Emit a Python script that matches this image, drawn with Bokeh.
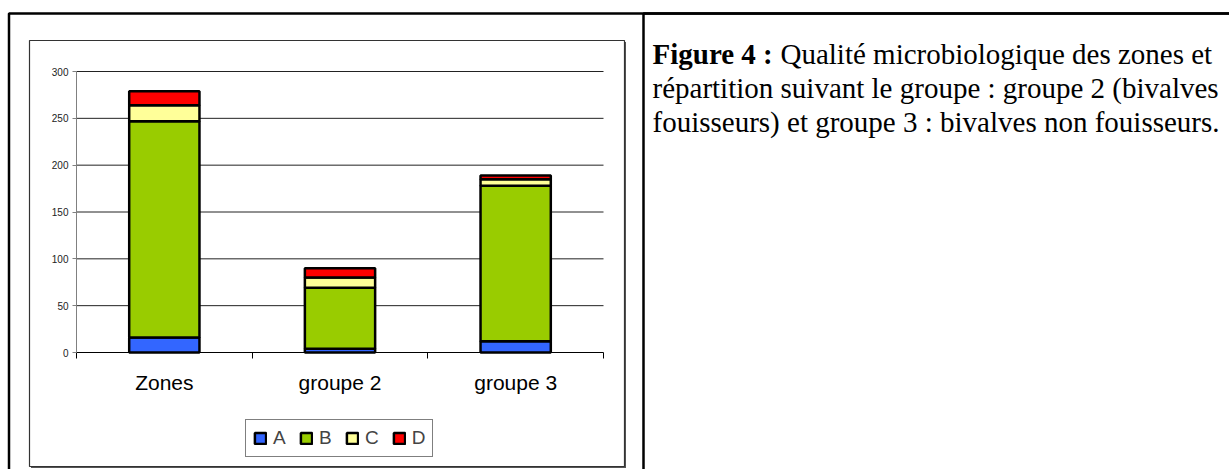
from bokeh.plotting import figure
from bokeh.models import (Range1d, LinearAxis, FixedTicker, BoxAnnotation, Label,
                          ColumnDataSource, LinearScale)
from bokeh.embed import file_html
from bokeh.resources import INLINE

# ---------------- data ----------------
categories = ["Zones", "groupe 2", "groupe 3"]
series = ["A", "B", "C", "D"]
A = [16, 4, 12]
B = [231, 65, 166]
C = [17, 11, 7]
D = [15, 10, 4]
colors = ["#3366FF", "#99CC00", "#FFFF99", "#FF0000"]
y_ticks = [0, 50, 100, 150, 200, 250, 300]
y_max = 300
caption_bold = "Figure 4 :"
caption_lines = [
    "Qualité microbiologique des zones et",
    "répartition suivant le groupe : groupe 2 (bivalves",
    "fouisseurs) et groupe 3 : bivalves non fouisseurs.",
]

# ---------------- layout (page pixels) ----------------
W, H = 1229, 469
FL, FR, FT, FB = 76, 603, 71, 352          # chart plotting area
NCAT = len(categories)
kx = (FR - FL) / NCAT                      # px per category
ky = (FB - FT) / y_max                     # px per value unit

p = figure(width=W, height=H, output_backend="svg", toolbar_location=None,
           x_axis_location=None, y_axis_location=None,
           x_range=Range1d(-FL / kx, NCAT + (W - FR) / kx),
           y_range=Range1d(-(H - FB) / ky, y_max + FT / ky),
           min_border=0, min_border_left=0, min_border_right=0,
           min_border_top=0, min_border_bottom=0)
p.background_fill_color = "white"
p.border_fill_color = "white"
p.outline_line_color = None
p.grid.visible = False

p.extra_x_ranges = {"px": Range1d(0, W)}
p.extra_y_ranges = {"py": Range1d(H, 0)}
p.extra_x_scales = {"px": LinearScale()}
p.extra_y_scales = {"py": LinearScale()}

# chart box with its shadow (page pixels, drawn under the glyphs)
def ubox(l, r, t, b, fill, line, lw):
    p.add_layout(BoxAnnotation(left=l, right=r, top=t, bottom=b, level="underlay",
                               x_range_name="px", y_range_name="py",
                               fill_color=fill, fill_alpha=1,
                               line_color=line, line_width=lw, line_alpha=1))

ubox(30.5, 625.5, 41.5, 467.5, "#555555", None, 0)
ubox(29, 624, 40, 466, "white", "#333333", 1.2)

# horizontal gridlines (from the tick list)
p.segment(x0=0, x1=NCAT, y0=y_ticks[1:], y1=y_ticks[1:], line_color="#222222", line_width=1)

# stacked bars
xpos = [i + 0.5 for i in range(NCAT)]
source = ColumnDataSource(dict(x=xpos, cat=categories, A=A, B=B, C=C, D=D))
p.vbar_stack(series, x="x", width=0.4, source=source, fill_color=colors,
             line_color="black", line_width=2.5, legend_label=series)

# y axis
yax = LinearAxis(fixed_location=0, bounds=(0, y_max), ticker=FixedTicker(ticks=y_ticks),
                 axis_line_color="#808080", major_tick_line_color="#808080",
                 major_tick_out=4, major_tick_in=0, minor_tick_out=0, minor_tick_in=0,
                 major_label_standoff=4, major_label_text_font="Liberation Sans",
                 major_label_text_font_size="10px", major_label_text_color="#222222")
p.add_layout(yax, "left")

# x axis: labels at category centres, ticks (minor) at category boundaries
xax = LinearAxis(fixed_location=0, bounds=(0, NCAT),
                 ticker=FixedTicker(ticks=xpos, minor_ticks=list(range(NCAT + 1))),
                 major_label_overrides={x: c for x, c in zip(xpos, categories)},
                 axis_line_color="black", axis_line_width=1,
                 major_tick_line_color=None, major_tick_out=0, major_tick_in=0,
                 minor_tick_line_color="black", minor_tick_out=6, minor_tick_in=0,
                 major_label_standoff=12,
                 major_label_text_font="Liberation Sans",
                 major_label_text_font_size="21px", major_label_text_color="black")
p.add_layout(xax, "below")

# legend
leg = p.legend[0]
leg.location = (245, H - 457)
leg.orientation = "horizontal"
leg.glyph_width = 14
leg.glyph_height = 14
leg.label_width = 13
leg.label_text_font = "Liberation Sans"
leg.label_text_font_size = "19px"
leg.label_standoff = 6
leg.spacing = 13
leg.padding = 7
leg.margin = 0
leg.border_line_color = "black"
leg.border_line_width = 1.5
leg.background_fill_color = "white"
leg.background_fill_alpha = 1

# outer frame and divider (page pixels)
def box(l, r, t, b, lw, col):
    p.add_layout(BoxAnnotation(left=l, right=r, top=t, bottom=b,
                               x_range_name="px", y_range_name="py",
                               fill_color=None, fill_alpha=0,
                               line_color=col, line_width=lw, line_alpha=1))

box(8.5, 1500, 13, 800, 2.5, "black")
box(643, 1500, 13, 800, 2.5, "black")

# caption
def lab(x, y, t, style="normal"):
    p.add_layout(Label(x=x, y=y, x_range_name="px", y_range_name="py", text=t,
                       text_font="Liberation Serif", text_font_size="29px",
                       text_font_style=style, text_color="black",
                       text_align="left", text_baseline="alphabetic"))

lab(652, 53, caption_bold, "bold")
lab(780, 53, caption_lines[0])
lab(652, 87, caption_lines[1])
lab(652, 121, caption_lines[2])

open("out.html", "w").write(file_html(p, INLINE))
